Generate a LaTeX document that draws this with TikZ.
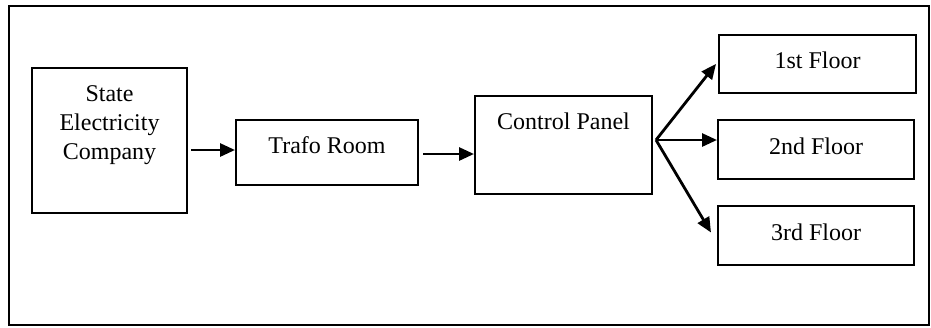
\documentclass[tikz,border=0pt]{standalone}
\usepackage{fontspec}
\setmainfont{Liberation Serif}
\usetikzlibrary{positioning, arrows.meta}

\begin{document}
\begin{tikzpicture}[x=0.5pt, y=-0.5pt,
    block/.style={draw, line width=1pt, inner sep=0pt},
    txt/.style={font=\fontsize{12}{14.5}\selectfont, inner sep=0pt, align=center},
    flow/.style={line width=1.4pt, -{Triangle[length=7.5pt, width=6.5pt]}}]
    \useasboundingbox (0,0) rectangle (931,327);
    \draw[line width=1pt] (9,6) rectangle (929,325);

    \node[block, minimum width=77.5pt, minimum height=72.5pt] (sec) at (109.5,140.5) {};
    \node[txt, below=9pt of sec.north] (sectext) {State\\Electricity\\Company};
    \node[block, txt, text depth=7pt, minimum width=91pt, minimum height=32.5pt] (trafo) at (327,152.5) {Trafo Room};
    \node[block, minimum width=88.5pt, minimum height=49pt] (panel) at (563.5,145) {};
    \node[txt, below=8.5pt of panel.north] (paneltext) {Control Panel};
    \node[block, txt, text depth=3.5pt, minimum width=98.5pt, minimum height=29pt] (floor1) at (817.5,64) {1st Floor};
    \node[block, txt, text depth=3.5pt, minimum width=98pt, minimum height=29.5pt] (floor2) at (816,149.5) {2nd Floor};
    \node[block, txt, text depth=3.5pt, minimum width=98pt, minimum height=29.5pt] (floor3) at (816,235.5) {3rd Floor};

    \coordinate (fan) at ([xshift=1.5pt, yshift=2.5pt]panel.east);
    \draw[flow] ([xshift=1.5pt]sec.east |- 0,150) -- (trafo.west |- 0,150);
    \draw[flow] ([xshift=2pt]trafo.east |- 0,154) -- (panel.west |- 0,154);
    \draw[flow] (fan) -- ([xshift=-1pt]floor1.west);
    \draw[flow] (fan) -- (fan -| floor2.west);
    \draw[flow] (fan) -- ([xshift=-3pt, yshift=1.5pt]floor3.west);
\end{tikzpicture}
\end{document}
